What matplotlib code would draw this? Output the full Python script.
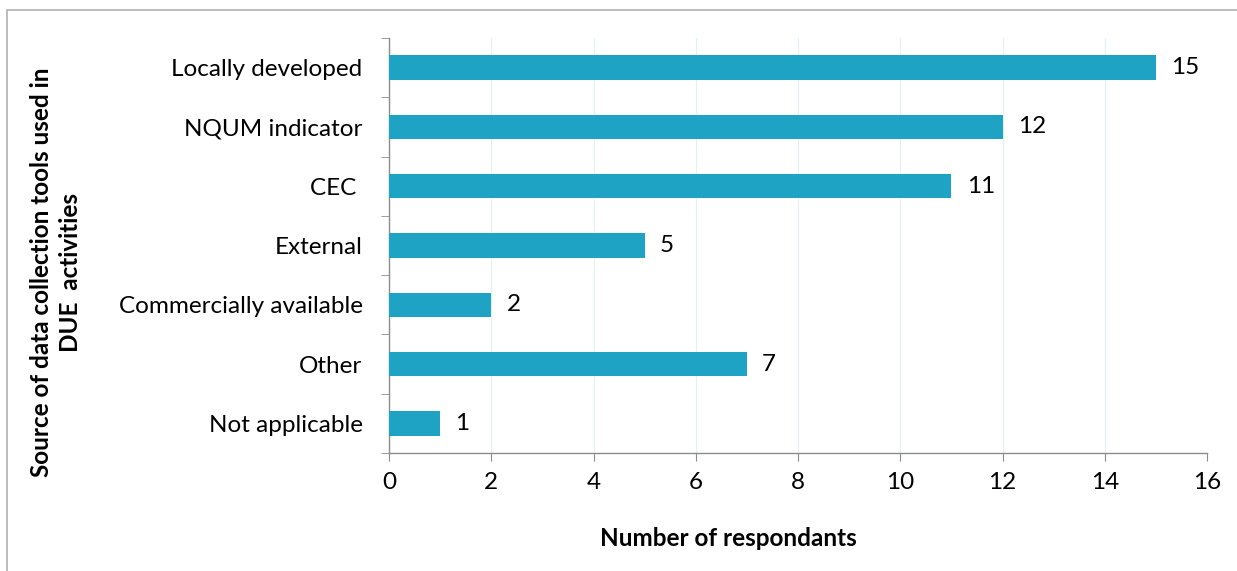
import matplotlib.pyplot as plt
from matplotlib.patches import Rectangle

plt.rcParams['font.family'] = ['Lato', 'DejaVu Sans']

categories = ['Locally developed', 'NQUM indicator', 'CEC ', 'External',
              'Commercially available', 'Other', 'Not applicable']
counts = [15, 12, 11, 5, 2, 7, 1]
x_ticks = [0, 2, 4, 6, 8, 10, 12, 14, 16]

bar_color = '#1FA3C4'
axis_gray = '#8C8C8C'
fs = 17.5

fig = plt.figure(figsize=(12.37, 5.71), dpi=100)
ax = fig.add_axes([389 / 1237, 1 - 453 / 571, (1207 - 389) / 1237, (453 - 38) / 571])

ypos = list(range(len(categories)))[::-1]
bars = ax.barh(ypos, counts, height=0.41, color=bar_color, zorder=3)

for y, v in zip(ypos, counts):
    ax.text(v + 0.3, y, str(v), va='center', ha='left', fontsize=fs, color='black')

ax.set_xlim(0, 16)
ax.set_ylim(-0.5, len(categories) - 0.5)
ax.set_xticks(x_ticks)
ax.set_xticklabels([str(t) for t in x_ticks], fontsize=fs)
ax.set_yticks(ypos)
ax.set_yticklabels(categories, fontsize=fs)

# category boundary ticks on the left axis
ax.set_yticks([i - 0.5 for i in range(len(categories) + 1)], minor=True)
ax.tick_params(axis='y', which='major', length=0, pad=19)
ax.tick_params(axis='y', which='minor', length=6, color=axis_gray, direction='out')
ax.tick_params(axis='x', length=6, color=axis_gray, direction='out', pad=8)

ax.grid(axis='x', color='#E3F1F5', linewidth=0.8, zorder=0)
for s in ['top', 'right']:
    ax.spines[s].set_visible(False)
for s in ['left', 'bottom']:
    ax.spines[s].set_color(axis_gray)
    ax.spines[s].set_linewidth(1)

fig.text(728 / 1237, 1 - 538 / 571, 'Number of respondants', ha='center', va='center',
         fontsize=fs, fontweight='bold')
fig.text(42 / 1237, 1 - 272 / 571, 'Source of data collection tools used in', ha='center',
         va='center', rotation=90, fontsize=fs, fontweight='bold')
fig.text(71 / 1237, 1 - 272 / 571, 'DUE  activities', ha='center',
         va='center', rotation=90, fontsize=fs, fontweight='bold')

# outer chart border
fig.patches.append(Rectangle((7 / 1237, -0.01), 1.1, 1 - 10 / 571 + 0.01, transform=fig.transFigure,
                             fill=False, edgecolor='#B0B0B0', linewidth=1.2))

fig.savefig('out.png', dpi=100)
